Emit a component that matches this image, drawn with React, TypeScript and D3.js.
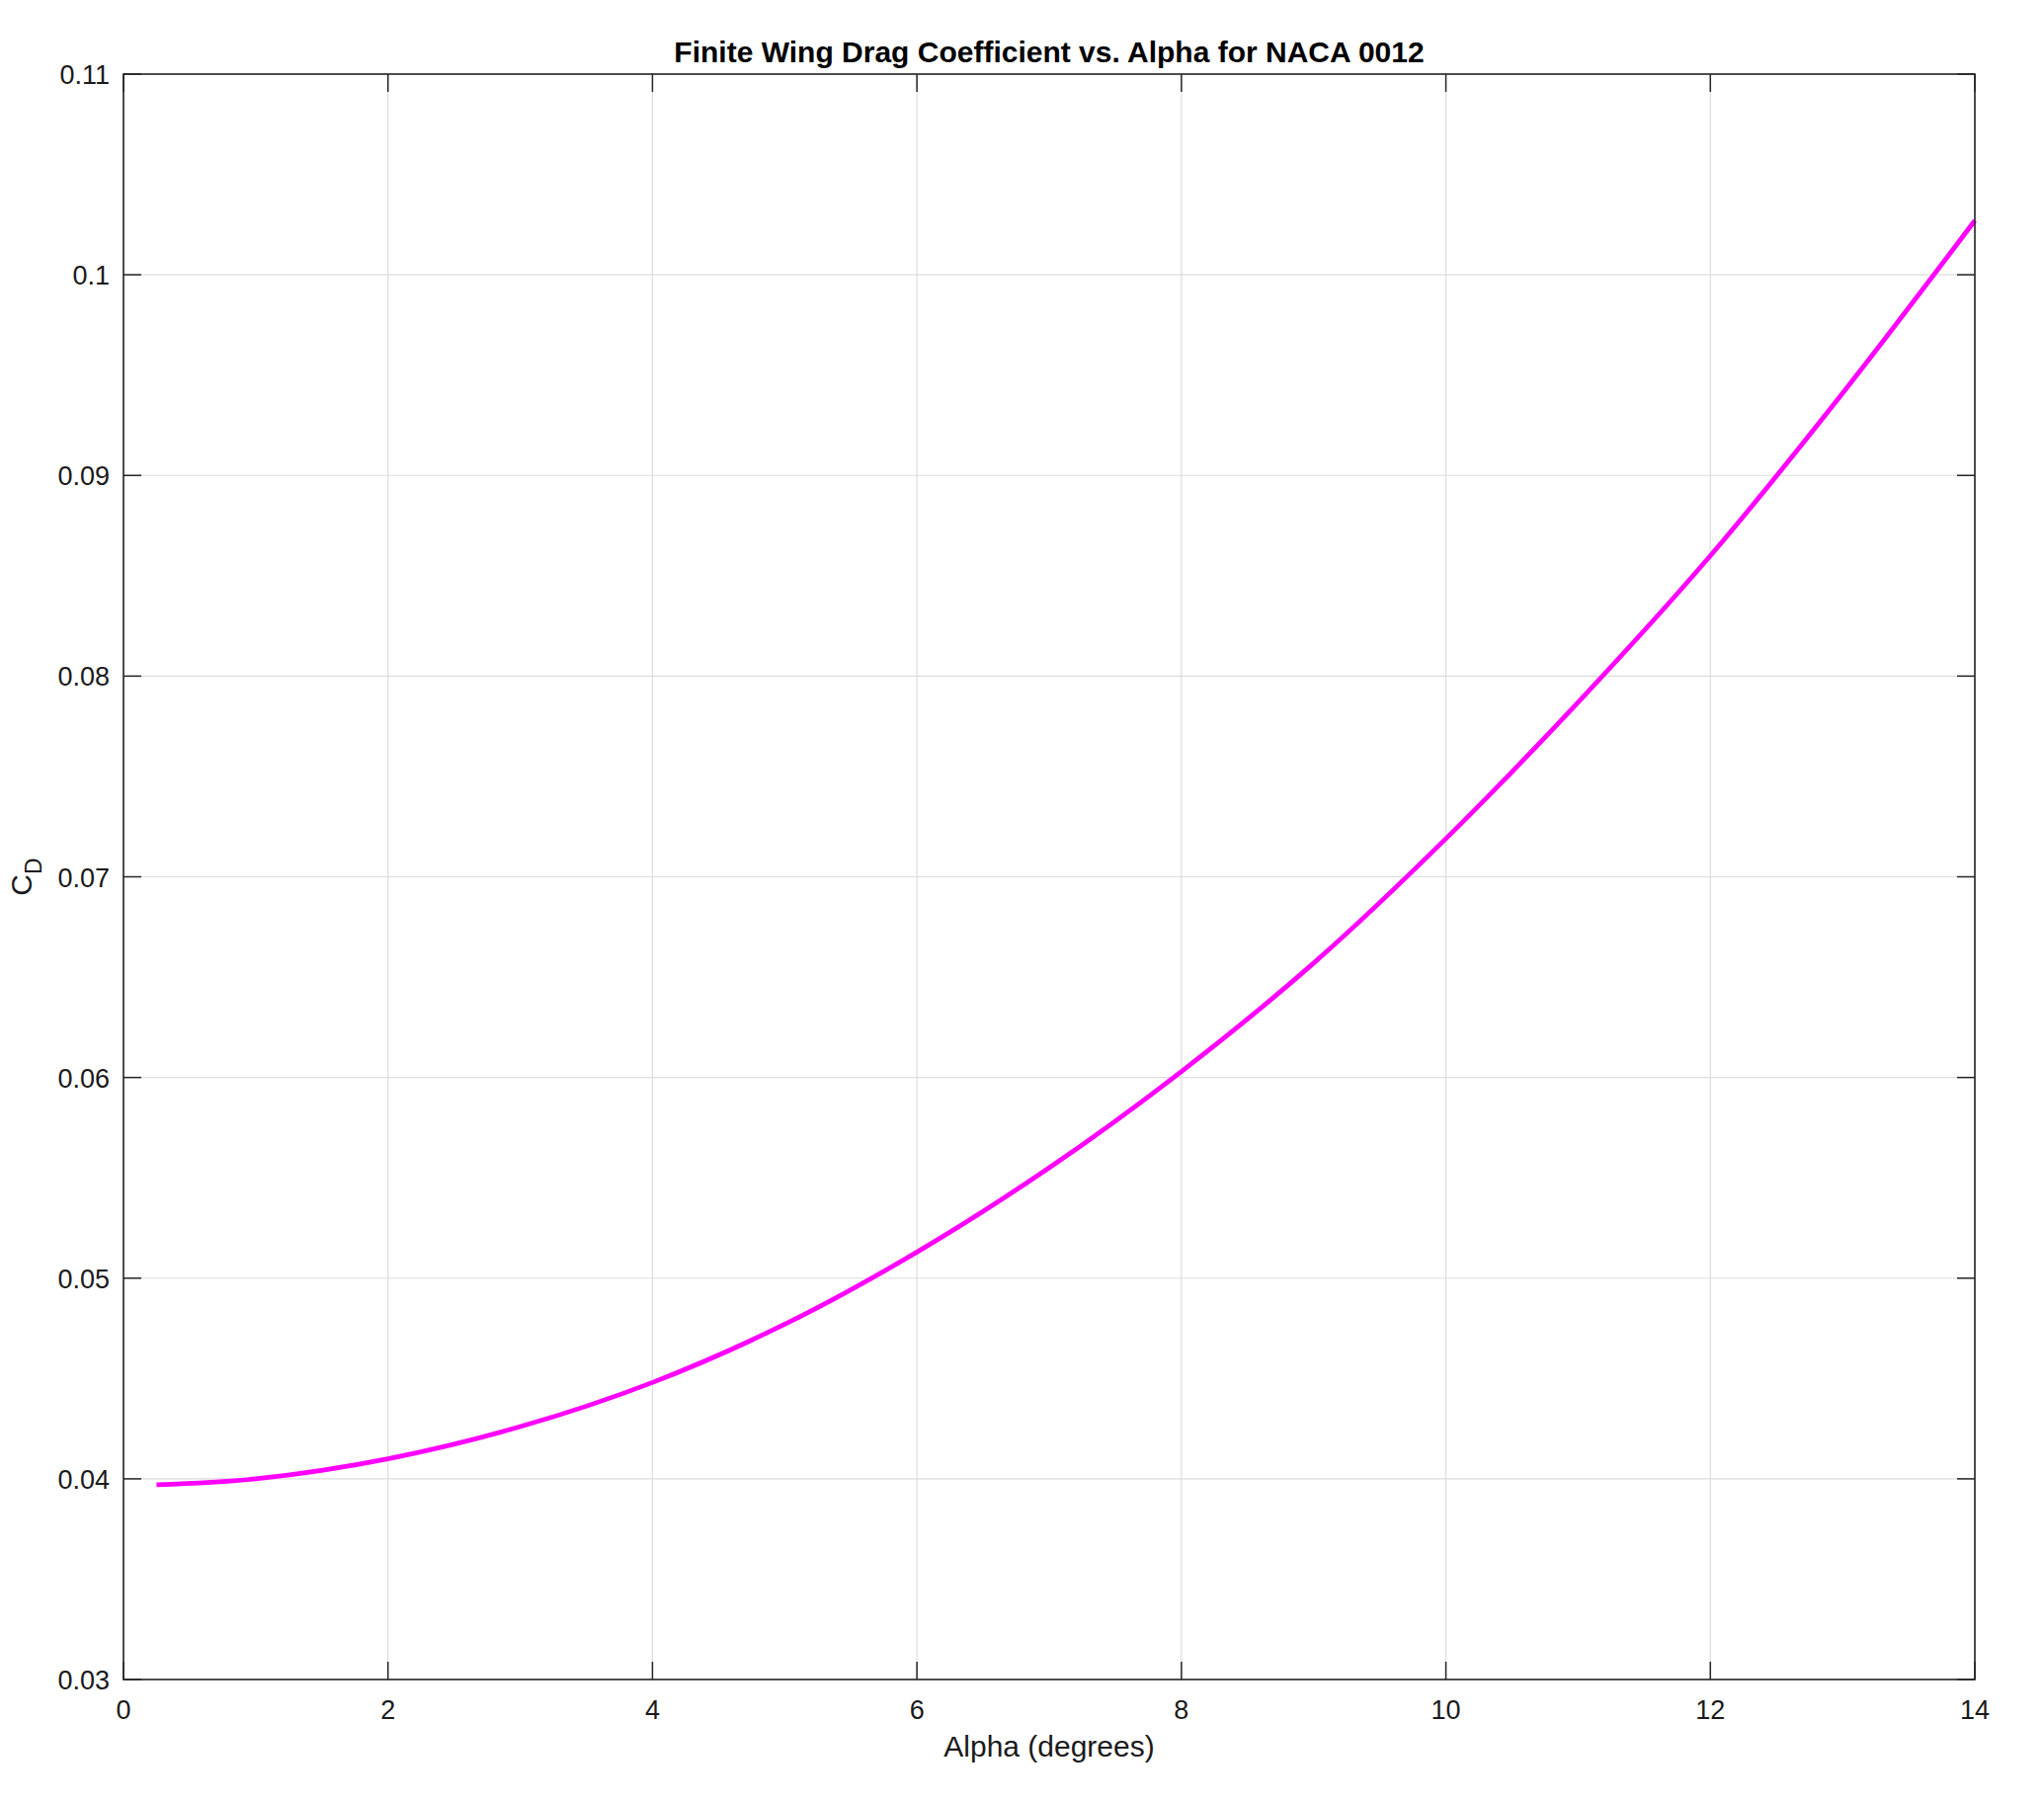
import React from "react";
import * as d3 from "d3";

const alphaDeg = [0.25, 1, 2, 3, 4, 5, 6, 7, 8, 9, 10, 11, 12, 13, 14];
const cdValues = [0.0397, 0.04, 0.041, 0.0426, 0.0448, 0.0477, 0.0513, 0.0555, 0.0603, 0.0657, 0.0719, 0.0787, 0.086, 0.0941, 0.1027];
const xTicks = [0, 2, 4, 6, 8, 10, 12, 14];
const xTickLabels = ["0", "2", "4", "6", "8", "10", "12", "14"];
const yTicks = [0.03, 0.04, 0.05, 0.06, 0.07, 0.08, 0.09, 0.1, 0.11];
const yTickLabels = ["0.03", "0.04", "0.05", "0.06", "0.07", "0.08", "0.09", "0.1", "0.11"];

const W = 2069;
const H = 1825;
const L = 125;
const R = 1999;
const T = 75;
const B = 1700;
const FONT = "'Liberation Sans', Arial, Helvetica, sans-serif";
const AX = "#262626";

export default function App() {
  const x = d3.scaleLinear().domain([0, 14]).range([L, R]);
  const y = d3.scaleLinear().domain([0.03, 0.11]).range([B, T]);
  const pts: [number, number][] = alphaDeg.map((a, i) => [a, cdValues[i]]);
  const line = d3
    .line<[number, number]>()
    .x((d) => x(d[0]))
    .y((d) => y(d[1]))
    .curve(d3.curveCatmullRom.alpha(0.5));
  const tl = 18;
  return (
    <svg
      width={W}
      height={H}
      style={{ position: "absolute", left: 0, top: 0, background: "#fff" }}
      fontFamily={FONT}
    >
      <rect x={0} y={0} width={W} height={H} fill="#ffffff" />
      {xTicks.map((t) => (
        <line key={"gx" + t} x1={x(t)} x2={x(t)} y1={T} y2={B} stroke="#dcdcdc" strokeWidth={1.2} />
      ))}
      {yTicks.map((t) => (
        <line key={"gy" + t} x1={L} x2={R} y1={y(t)} y2={y(t)} stroke="#dcdcdc" strokeWidth={1.2} />
      ))}
      <path d={line(pts) || ""} fill="none" stroke="#ff00ff" strokeWidth={4.8} strokeLinejoin="round" />
      {xTicks.map((t) => (
        <g key={"tx" + t}>
          <line x1={x(t)} x2={x(t)} y1={B} y2={B - tl} stroke={AX} strokeWidth={1.5} />
          <line x1={x(t)} x2={x(t)} y1={T} y2={T + tl} stroke={AX} strokeWidth={1.5} />
        </g>
      ))}
      {yTicks.map((t) => (
        <g key={"ty" + t}>
          <line x1={L} x2={L + tl} y1={y(t)} y2={y(t)} stroke={AX} strokeWidth={1.5} />
          <line x1={R} x2={R - tl} y1={y(t)} y2={y(t)} stroke={AX} strokeWidth={1.5} />
        </g>
      ))}
      <rect x={L} y={T} width={R - L} height={B - T} fill="none" stroke={AX} strokeWidth={1.6} />
      {xTicks.map((t, i) => (
        <text key={"lx" + t} x={x(t)} y={B + 40} textAnchor="middle" fontSize={27} fill="#1a1a1a">
          {xTickLabels[i]}
        </text>
      ))}
      {yTicks.map((t, i) => (
        <text key={"ly" + t} x={L - 14} y={y(t) + 10} textAnchor="end" fontSize={27} fill="#1a1a1a">
          {yTickLabels[i]}
        </text>
      ))}
      <text x={(L + R) / 2} y={1778} textAnchor="middle" fontSize={30} fill="#1a1a1a">
        Alpha (degrees)
      </text>
      <text transform={`translate(32, ${(T + B) / 2}) rotate(-90)`} textAnchor="middle" fontSize={30} fill="#1a1a1a">
        C<tspan fontSize={23} dy={10}>D</tspan>
      </text>
      <text x={(L + R) / 2} y={63} textAnchor="middle" fontSize={30} fontWeight="bold" fill="#000">
        Finite Wing Drag Coefficient vs. Alpha for NACA 0012
      </text>
    </svg>
  );
}
